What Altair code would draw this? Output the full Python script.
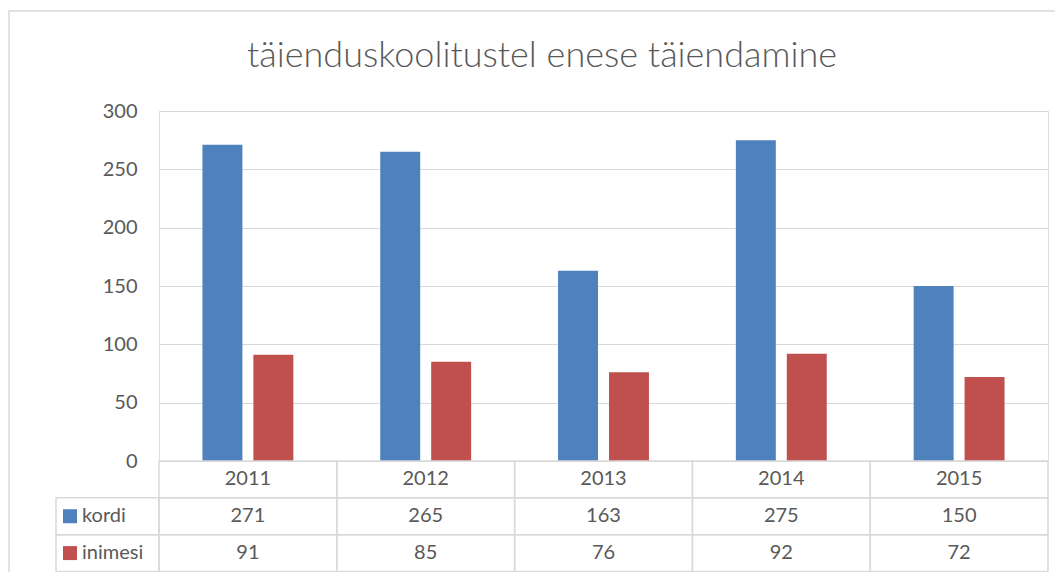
import altair as alt
import pandas as pd

title_text = "täienduskoolitustel enese täiendamine"
years = ["2011", "2012", "2013", "2014", "2015"]
series_names = ["kordi", "inimesi"]
kordi = [271, 265, 163, 275, 150]
inimesi = [91, 85, 76, 92, 72]
colors = ["#4F81BD", "#C0504D"]
y_ticks = [0, 50, 100, 150, 200, 250, 300]

FONT = "Lato"
TXT = "#595959"
GRID = "#d9d9d9"
W, H = 889, 350

bars_df = pd.DataFrame(
    [{"year": y, "series": "kordi", "value": v} for y, v in zip(years, kordi)]
    + [{"year": y, "series": "inimesi", "value": v} for y, v in zip(years, inimesi)]
)

table_rows = []
for i, y in enumerate(years):
    table_rows.append({"year": y, "row": "hdr", "label": y})
    table_rows.append({"year": y, "row": "kordi", "label": str(kordi[i])})
    table_rows.append({"year": y, "row": "inimesi", "label": str(inimesi[i])})
table_df = pd.DataFrame(table_rows)
legend_df = pd.DataFrame({"series": series_names, "row": series_names})
title_df = pd.DataFrame({"t": [title_text]})

xscale = alt.Scale(domain=years, paddingInner=0, paddingOuter=0)
rowscale = alt.Scale(domain=["hdr", "kordi", "inimesi"], range=[350, 460.5],
                     paddingInner=0, paddingOuter=0)
cscale = alt.Scale(domain=series_names, range=colors)

frame = alt.Chart(pd.DataFrame({"a": [0]})).mark_rect(
    fillOpacity=0, stroke=GRID, strokeWidth=1.5
).encode(x=alt.value(-150), x2=alt.value(W + 40), y=alt.value(-100), y2=alt.value(H + 160))

title = alt.Chart(title_df).mark_text(
    font=FONT, fontSize=36, fontWeight=300, color=TXT, align="center", baseline="alphabetic"
).encode(x=alt.value(383), y=alt.value(-44), text="t:N")

bars = alt.Chart(bars_df).mark_bar().encode(
    x=alt.X("year:N", scale=xscale, axis=None),
    xOffset=alt.XOffset("series:N", sort=series_names,
                        scale=alt.Scale(domain=series_names, paddingInner=0.2157, paddingOuter=0.853)),
    y=alt.Y("value:Q", scale=alt.Scale(domain=[0, 300], nice=False),
            axis=alt.Axis(values=y_ticks, grid=True, gridColor=GRID, domain=False, ticks=False,
                          labelPadding=22, labelFont=FONT, labelFontSize=20, labelColor=TXT,
                          title=None)),
    color=alt.Color("series:N", scale=cscale, legend=None),
)

cells = alt.Chart(table_df).mark_rect(fillOpacity=0, stroke=GRID, strokeWidth=1.5).encode(
    x=alt.X("year:N", scale=xscale, axis=None),
    y=alt.Y("row:N", scale=rowscale, axis=None),
)

cell_text = alt.Chart(table_df).mark_text(font=FONT, fontSize=20, color=TXT).encode(
    x=alt.X("year:N", scale=xscale, axis=None),
    y=alt.Y("row:N", scale=rowscale, axis=None),
    text="label:N",
)

left_cells = alt.Chart(legend_df).mark_rect(fillOpacity=0, stroke=GRID, strokeWidth=1.5).encode(
    x=alt.value(-103), x2=alt.value(0),
    y=alt.Y("row:N", scale=rowscale, axis=None),
)

squares = alt.Chart(legend_df).mark_square(size=196, opacity=1).encode(
    x=alt.value(-89),
    y=alt.Y("row:N", scale=rowscale, axis=None),
    color=alt.Color("series:N", scale=cscale, legend=None),
)

left_text = alt.Chart(legend_df).mark_text(font=FONT, fontSize=20, color=TXT, align="left").encode(
    x=alt.value(-77),
    y=alt.Y("row:N", scale=rowscale, axis=None),
    text="series:N",
)

chart = alt.layer(frame, title, bars, cells, cell_text, left_cells, squares, left_text).resolve_scale(
    y="independent"
).properties(
    width=W, height=H,
    autosize=alt.AutoSizeParams(type="none"),
    padding={"left": 151, "top": 103, "right": 7, "bottom": 111},
).configure_view(stroke=None).configure(background="white")

chart.save("out.html", embed_options={"renderer": "svg", "actions": False})
